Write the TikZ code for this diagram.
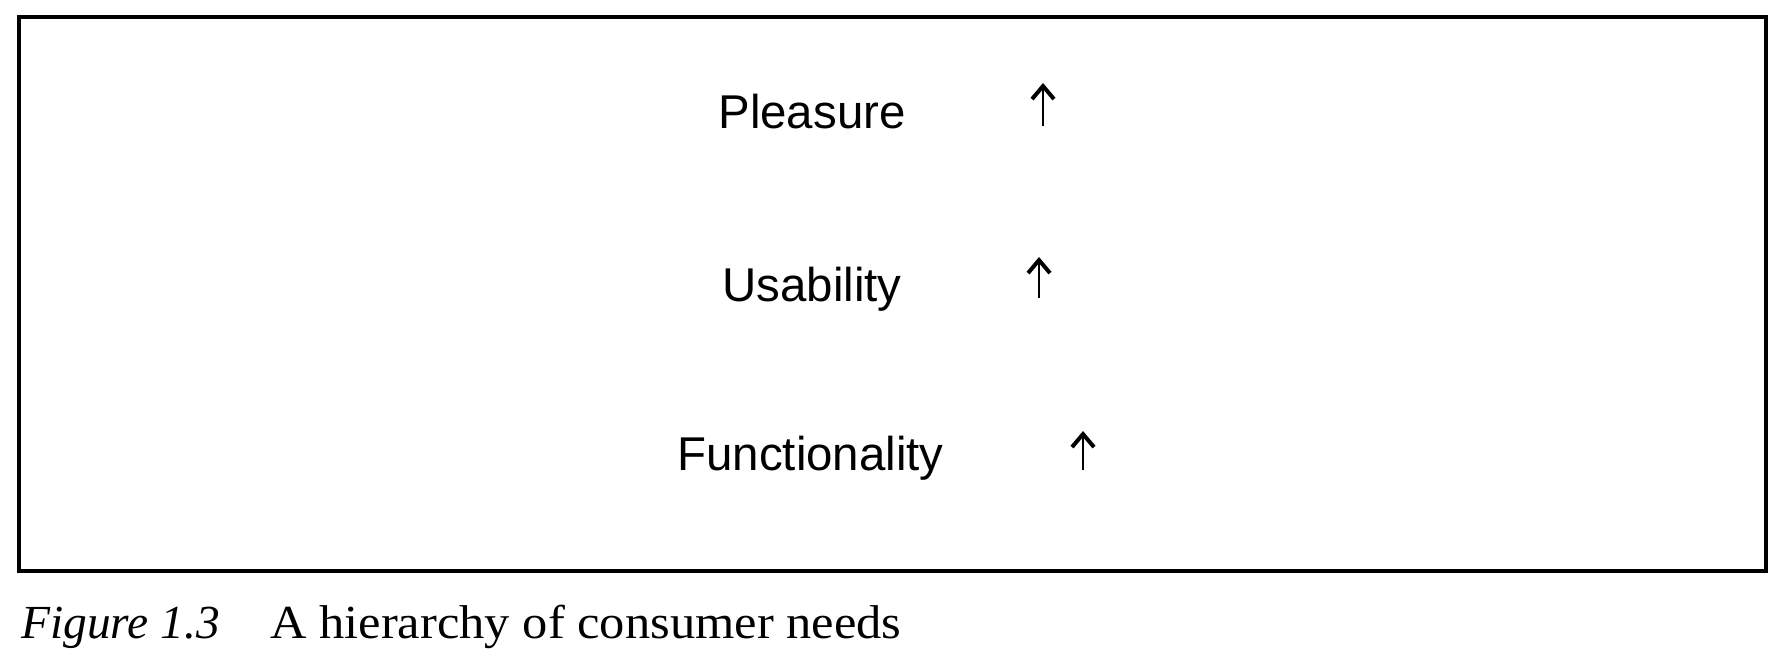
\documentclass[tikz,border=0pt]{standalone}
\usepackage{fontspec}
\setmainfont{Liberation Serif}
\newfontfamily\needfont{Liberation Sans}
\newfontfamily\capfont[FakeStretch=1.065]{Liberation Serif}
\usepackage{tikz}
\usetikzlibrary{arrows.meta}
\newcommand{\boxcolor}{black}
\newcommand{\boxthickness}{0.08cm}
\newcommand{\arrowthickness}{0.055cm}

\begin{document}
\begin{tikzpicture}[x=0.02cm,y=-0.02cm]
\useasboundingbox (0,0) rectangle (1784,660);
%box
\draw[\boxcolor] [line width = \boxthickness] (19,17) rectangle (1766,571);
%needs
\node[anchor=base west, inner sep=0] (1) at (718,128) {\needfont\fontsize{27}{32}\selectfont Pleasure};
\node[anchor=base west, inner sep=0] (2) at (722,301) {\needfont\fontsize{27}{32}\selectfont Usability};
\node[anchor=base west, inner sep=0] (3) at (677,470) {\needfont\fontsize{27}{32}\selectfont Functionality};
%arrows
\coordinate (1a) at (1043,126);
\coordinate (1b) at (1043,83);
\coordinate (2a) at (1039,298);
\coordinate (2b) at (1039,257);
\coordinate (3a) at (1083,470);
\coordinate (3b) at (1083,431);
\draw[\boxcolor] [line width = \arrowthickness, -{Straight Barb[length=2.6mm, width=4.4mm, line width=0.08cm]}] (1a) -- (1b);
\draw[\boxcolor] [line width = \arrowthickness, -{Straight Barb[length=2.6mm, width=4.4mm, line width=0.08cm]}] (2a) -- (2b);
\draw[\boxcolor] [line width = \arrowthickness, -{Straight Barb[length=2.6mm, width=4.4mm, line width=0.08cm]}] (3a) -- (3b);
%caption
\node[anchor=base west, inner sep=0] (4) at (21,638) {\fontsize{27}{32}\selectfont\itshape Figure 1.3};
\node[anchor=base west, inner sep=0] (5) at (270,638) {\capfont\fontsize{27}{32}\selectfont A hierarchy of consumer needs};
\end{tikzpicture}
\end{document}
